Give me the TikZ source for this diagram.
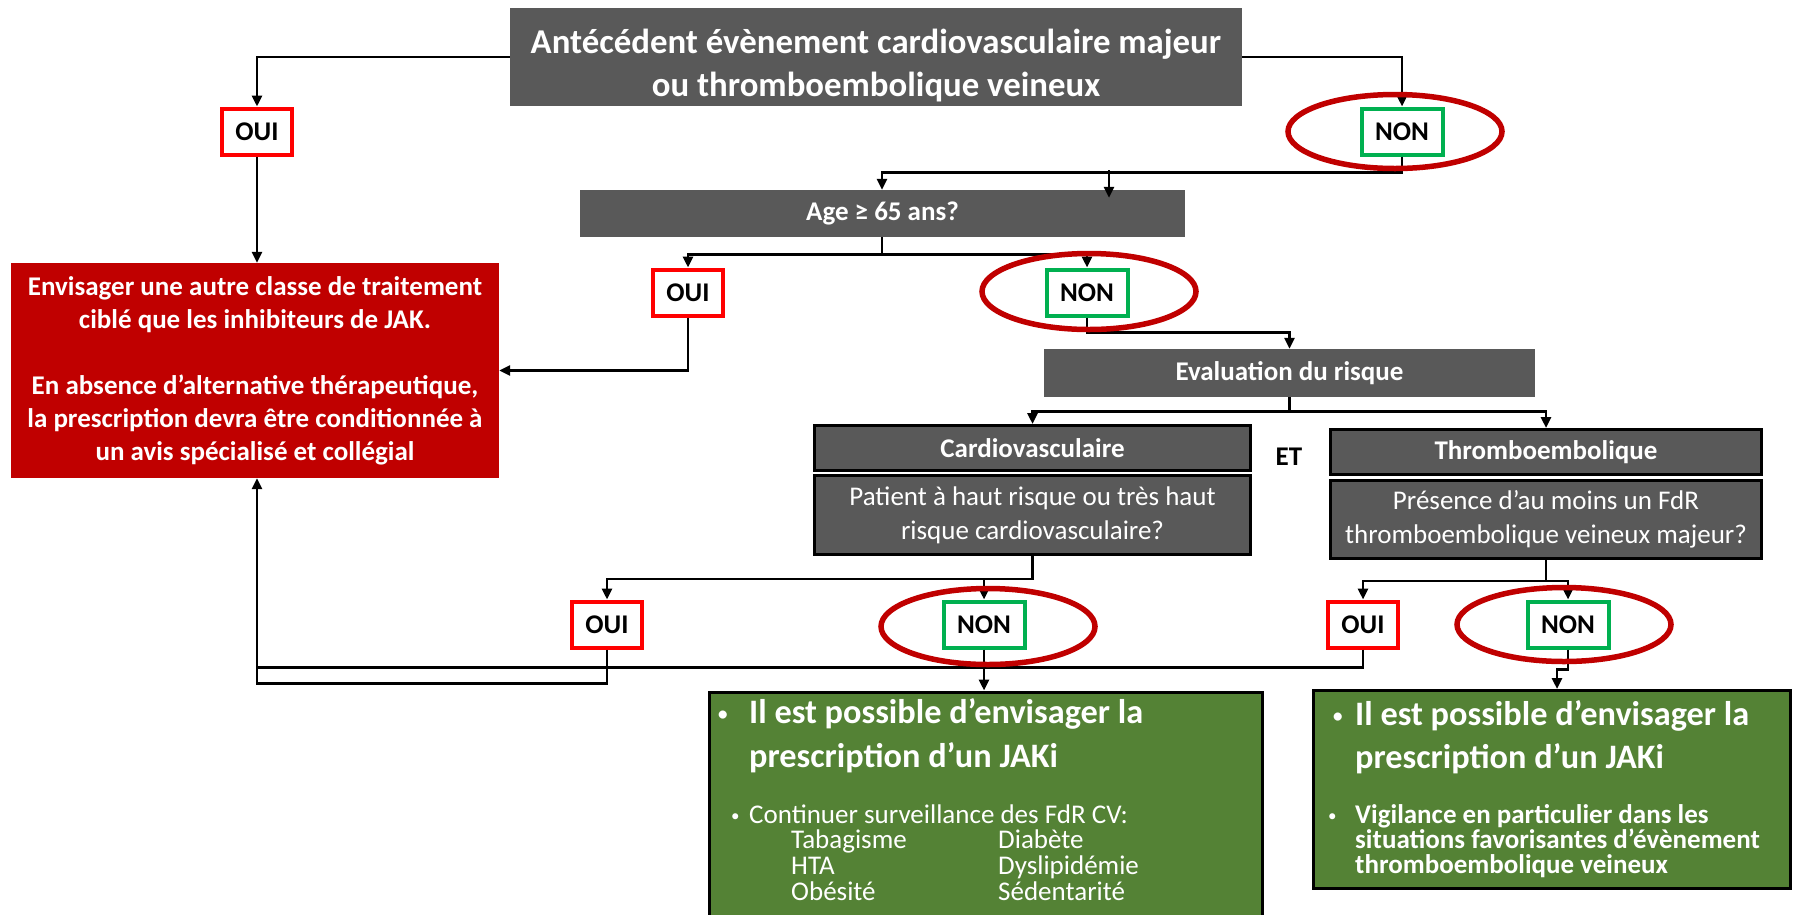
\documentclass[tikz,border=0pt]{standalone}
\usepackage{fontspec}
\setmainfont{Carlito}
\usetikzlibrary{arrows.meta,calc}
\definecolor{boxgray}{HTML}{595959}
\definecolor{alertred}{HTML}{C00000}
\definecolor{okgreen}{HTML}{548235}
\definecolor{ouiborder}{HTML}{FF0000}
\definecolor{nonborder}{HTML}{00B050}
\definecolor{ringred}{HTML}{C00000}
\newcommand\fsz[2]{\fontsize{#1pt}{#2pt}\selectfont}

\begin{document}
\begin{tikzpicture}[x=1pt,y=-1pt,
  conn/.style={draw=black, line width=2.8pt},
  arr/.style={conn, -{Triangle[length=11pt,width=10pt]}},
  graybox/.style={rectangle, fill=boxgray, text=white, inner sep=0pt, align=center},
  outlined/.style={graybox, draw=black, line width=3pt},
  hdr/.style={font=\bfseries\fsz{27}{33}},
  qtxt/.style={font=\fsz{27}{34}},
  answer/.style={rectangle, fill=white, line width=4pt, inner sep=0pt,
    minimum height=46pt, font=\bfseries\fsz{27}{33}},
  oui/.style={answer, draw=ouiborder, minimum width=70pt},
  non/.style={answer, draw=nonborder, minimum width=81pt},
  ring/.style={draw=ringred, line width=5.5pt},
  outcome/.style={rectangle, fill=okgreen, draw=black, line width=3pt, inner sep=0pt},
  gline/.style={anchor=base west, inner sep=0pt, text=white},
  bigline/.style={gline, font=\bfseries\fsz{34.3}{44}},
  bigdot/.style={gline, font=\fsz{23}{23}},
  smline/.style={gline, font=\fsz{27}{26}},
  smdot/.style={gline, font=\fsz{17}{17}},
  smbold/.style={gline, font=\bfseries\fsz{27}{25}},
]
\clip (0,0) rectangle (1793,914);

% decision boxes
\node[graybox, minimum width=732pt, minimum height=98pt, font=\bfseries\fsz{34.8}{43}]
  (top) at (876,57) {\rule{0pt}{42pt}Antécédent évènement cardiovasculaire majeur\\ou thromboembolique veineux};
\node[graybox, hdr, minimum width=605pt, minimum height=47pt] (age) at (882.5,213.5) {Age ≥ 65 ans?};
\node[graybox, hdr, minimum width=491pt, minimum height=48pt] (eval) at (1289.5,373) {Evaluation du risque};

\node[outlined, hdr, minimum width=436pt, minimum height=45pt] (cvh) at (1032.5,448) {Cardiovasculaire};
\node[outlined, qtxt, minimum width=436pt, minimum height=79pt] (cvq) at (1032.5,515)
  {Patient à haut risque ou très haut\\risque cardiovasculaire?};
\node[outlined, hdr, minimum width=431pt, minimum height=45pt] (tbh) at (1546,452) {Thromboembolique};
\node[outlined, qtxt, minimum width=431pt, minimum height=78pt] (tbq) at (1546,519.5)
  {Présence d’au moins un FdR\\thromboembolique veineux majeur?};
\node[font=\bfseries\fsz{27}{33}, inner sep=0pt] (et) at (1289,457) {ET};

% alternative treatment box
\node[rectangle, fill=alertred, text=white, inner sep=0pt, align=center,
  minimum width=488pt, minimum height=215pt, font=\bfseries\fsz{27}{33}] (red) at (255,370.5)
  {Envisager une autre classe de traitement\\ciblé que les inhibiteurs de JAK.\\[33pt]
   En absence d’alternative thérapeutique,\\la prescription devra être conditionnée à\\un avis spécialisé et collégial};

% answers
\node[oui] (oui1) at (257,131.5) {OUI};
\node[non] (non1) at (1402,131.5) {NON};
\node[oui] (oui2) at (688,292.5) {OUI};
\node[non] (non2) at (1087,292.5) {NON};
\node[oui] (oui3) at (607,624.5) {OUI};
\node[non] (non3) at (984,624.5) {NON};
\node[oui] (oui4) at (1363,624.5) {OUI};
\node[non] (non4) at (1568,624.5) {NON};

% outcome boxes
\node[outcome, anchor=north west, minimum width=553pt, minimum height=260pt] (g1) at (707.5,690.5) {};
\node[outcome, minimum width=477pt, minimum height=198pt] (g2) at (1552,789.5) {};

\node[bigdot] (g1b1) at (717,721) {•};
\node[bigline] (g1l1) at (749,723) {Il est possible d’envisager la};
\node[bigline] (g1l2) at (749,767) {prescription d’un JAKi};
\node[smdot] (g1b2) at (731,821) {•};
\node[smline] (g1l3) at (749,823) {Continuer surveillance des FdR CV:};
\node[smline] (g1a1) at (791,848) {Tabagisme};
\node[smline] (g1a2) at (791,874) {HTA};
\node[smline] (g1a3) at (791,900) {Obésité};
\node[smline] (g1c1) at (998,848) {Diabète};
\node[smline] (g1c2) at (998,874) {Dyslipidémie};
\node[smline] (g1c3) at (998,900) {Sédentarité};

\node[bigdot] (g2b1) at (1332,723) {•};
\node[bigline] (g2l1) at (1355,725) {Il est possible d’envisager la};
\node[bigline] (g2l2) at (1355,768) {prescription d’un JAKi};
\node[smdot] (g2b2) at (1328,821) {•};
\node[smbold] (g2l3) at (1355,823) {Vigilance en particulier dans les};
\node[smbold] (g2l4) at (1355,848) {situations favorisantes d’évènement};
\node[smbold] (g2l5) at (1355,873) {thromboembolique veineux};

% connectors
\draw[arr] (top.west) -| (oui1.north);
\draw[arr] (top.east) -| (non1.north);
\draw[arr] (oui1.south) -- (oui1.south |- red.north);
\draw[arr] (non1.south) |- ($(age.north)+(-0.5,-17)$) -- ($(age.north)+(-0.5,0)$);
\coordinate (k1) at (1109,170);
\draw[arr] (k1) -- ($(k1 |- age.north)+(0,8)$);
\draw[arr] ($(age.south)+(-0.5,0)$) -- ++(0,17) -| (oui2.north);
\draw[arr] ($(age.south)+(-0.5,0)$) -- ++(0,17) -| (non2.north);
\draw[arr] (oui2.south) |- (red.east);
\draw[arr] (non2.south) -- ++(0,15) -| (eval.north);
\draw[arr] (eval.south) -- ++(0,14) -| (cvh.north);
\draw[arr] (eval.south) -- ++(0,14) -| (tbh.north);
\draw[arr] (cvq.south) -- ++(0,23) -| (oui3.north);
\draw[arr] (cvq.south) -- ++(0,23) -| (non3.north);
\draw[arr] (tbq.south) -- ++(0,21) -| (oui4.north);
\draw[arr] (tbq.south) -- ++(0,21) -| (non4.north);
\draw[arr] (non3.south) -- (non3.south |- g1.north);
\draw[arr] (non4.south) -- ++(0,20) -| ($(g2.north)+(5,0)$);
\draw[arr] (oui3.south) |- ($(red.south)+(2,205)$) -- ($(red.south)+(2,0)$);
\draw[conn] (oui4.south) |- ($(red.south)+(2,189)$);

% highlight rings around the NON answers
\draw[ring] ($(non1)+(-7,0)$) ellipse [x radius=107, y radius=37];
\draw[ring] ($(non2)+(2,-1)$) ellipse [x radius=107, y radius=38];
\draw[ring] ($(non3)+(4,2)$) ellipse [x radius=107, y radius=38];
\draw[ring] ($(non4)+(-4,0)$) ellipse [x radius=107, y radius=37];
\end{tikzpicture}
\end{document}
